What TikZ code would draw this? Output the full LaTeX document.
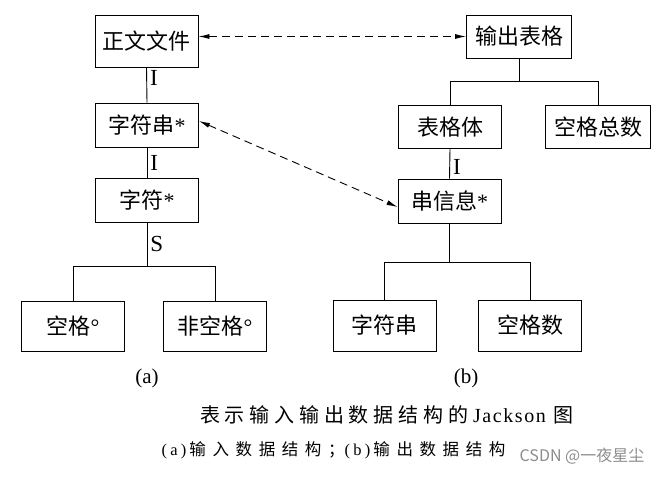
\documentclass[tikz,border=0pt]{standalone}
\usepackage{fontspec}
\setmainfont{Liberation Serif}
\newfontfamily\cjk{Noto Sans CJK SC}
\newfontfamily\cjkwide[LetterSpace=24]{Noto Sans CJK SC}
\newfontfamily\cjksub[LetterSpace=40]{Noto Sans CJK SC}
\newfontfamily\rmwide[LetterSpace=8]{Liberation Serif}
\newfontfamily\rmsub[LetterSpace=20]{Liberation Serif}
\usetikzlibrary{arrows.meta}

\begin{document}
\begin{tikzpicture}[x=1pt,y=-1pt,line width=0.9pt,
    blk/.style={draw,inner sep=0pt,minimum width=103pt,minimum height=44pt,font=\cjk\fontsize{22}{22}\selectfont},
    lbl/.style={right,inner sep=3pt,font=\fontsize{23}{23}\selectfont},
    lnk/.style={dash pattern=on 8pt off 5pt,{Latex[length=11pt,width=5pt]}-{Latex[length=11pt,width=5pt]}}]
    \useasboundingbox (0,0) rectangle (668,478);
    \node[blk,minimum height=52pt] (zwwj) at (146.5,41) {正文文件};
    \node[blk,minimum width=105pt,minimum height=43pt] (scbg) at (519,36.5) {输出表格};
    \node[blk] (zfc) at (147,125) {字符串{\rmfamily*}};
    \node[blk] (zf) at (147,200) {字符{\rmfamily*}};
    \node[blk,minimum height=50pt] (kg) at (73,326) {空格{\rmfamily°}};
    \node[blk,minimum height=50pt] (fkg) at (215,326) {非空格{\rmfamily°}};
    \node[blk,minimum height=43pt] (bgt) at (450,127) {表格体};
    \node[blk,minimum width=105pt,minimum height=43pt] (kgzs) at (598,127) {空格总数};
    \node[blk] (cxx) at (449.5,201) {串信息{\rmfamily*}};
    \node[blk,minimum height=51pt] (zfc2) at (384.5,325.5) {字符串};
    \node[blk,minimum height=51pt] (kgs) at (530,325.5) {空格数};
    \draw (zwwj.south) -- node[lbl,pos=0.3] {I} (zfc.north);
    \draw (zfc.south) -- node[lbl] {I} (zf.north);
    \draw (zf.south) -- node[lbl,pos=0.48] {S} ++(0,44) coordinate (ja);
    \draw (kg.north) |- (ja) -| (fkg.north);
    \draw (scbg.south) -- ++(0,23) coordinate (jb);
    \draw (bgt.north) |- (jb) -| (kgzs.north);
    \draw (bgt.south) -- node[lbl,pos=0.6] {I} (cxx.north);
    \draw (cxx.south) -- ++(0,39) coordinate (jc);
    \draw (zfc2.north) |- (jc) -| (kgs.north);
    \draw[lnk] (zwwj.east |- scbg.west) -- (scbg.west);
    \draw[lnk] ([yshift=4pt]zfc.east) -- ([yshift=-6pt]cxx.west);
    \node[font=\fontsize{21}{21}\selectfont] (capa) at (147,378) {(a)};
    \node[font=\fontsize{21}{21}\selectfont] (capb) at (466,378) {(b)};
    \node[font=\fontsize{20}{20}\selectfont] (titel) at (387,415)
        {{\cjkwide 表示输入输出数据结构的}\hspace{5pt}{\rmwide Jackson}\hspace{8pt}{\cjkwide 图}};
    \node[font=\fontsize{16.5}{17}\selectfont] (untertitel) at (333.5,450)
        {{\rmsub (a)}\hspace{3pt}{\cjksub 输入数据结构；}{\rmsub (b)}\hspace{3pt}{\cjksub 输出数据结构}};
    \node[font=\cjk\fontsize{16}{16}\selectfont,text=black!45] (wm) at (582,456) {CSDN @一夜星尘};
\end{tikzpicture}
\end{document}
